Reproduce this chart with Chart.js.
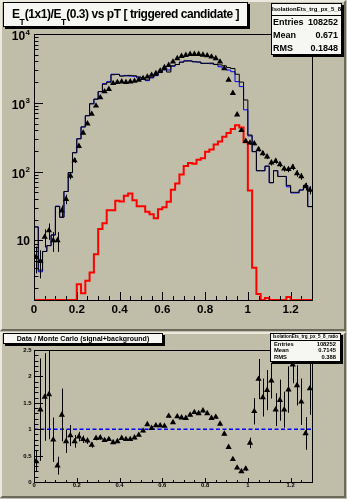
<!DOCTYPE html>
<html>
<head>
<meta charset="utf-8">
<title>ET(1x1)/ET(0.3) vs pT</title>
<script src="https://cdn.jsdelivr.net/npm/chart.js@4.4.1/dist/chart.umd.min.js"></script>
<style>
  html, body { margin: 0; padding: 0; background: #c0bda8; }
  #root { position: relative; width: 347px; height: 499px; overflow: hidden; background: #c0bda8;
    font-family: "Liberation Sans", Arial, Helvetica, sans-serif; font-weight: bold; color: #000; }
  #root canvas { position: absolute; left: 0; display: block; }
  .pad { position: absolute; left: 0; width: 346px; box-sizing: border-box; border: 2px solid;
    border-color: #ebe9de #6c6a5c #6c6a5c #ebe9de; pointer-events: none; }
  .pave { position: absolute; box-sizing: border-box; background: #f6f6f3; border: 1px solid #000;
    box-shadow: 2px 2px 0 #000; white-space: nowrap; }
  .pave div { position: absolute; white-space: nowrap; }
  .pave .head { left: 0; right: 0; overflow: hidden; text-align: center; }
  .sub { font-size: 8.5px; position: relative; top: 7px; letter-spacing: 0; }
  .rule { left: 0; right: 0; height: 0; border-top: 1px solid #000; }
</style>
</head>
<body>
<div id="root">
  <canvas id="mainPlot" width="347" height="331" style="top:0;width:347px;height:331px;"></canvas>
  <canvas id="ratioPlot" width="347" height="167" style="top:332px;width:347px;height:167px;"></canvas>

  <div class="pad" style="top:0;height:331px;"></div>
  <div class="pad" style="top:332px;height:166px;"></div>

  <div class="pave" style="left:3px;top:2px;width:245px;height:25px;">
    <div style="left:8px;top:3px;font-size:12px;line-height:16px;letter-spacing:-0.45px;">E<span class="sub">T</span>(1x1)/E<span class="sub">T</span>(0.3) vs pT [ triggered candidate ]</div>
  </div>

  <div class="pave" style="left:271px;top:3px;width:71px;height:52px;">
    <div class="head" style="top:1px;font-size:6px;line-height:8px;">IsolationEts_trg_px_5_8</div>
    <div class="rule" style="top:11px;"></div>
    <div style="left:1px;top:13px;font-size:9px;line-height:11px;">Entries</div>
    <div style="right:3px;top:13px;font-size:9px;line-height:11px;">108252</div>
    <div style="left:1px;top:26px;font-size:9px;line-height:11px;">Mean</div>
    <div style="right:3px;top:26px;font-size:9px;line-height:11px;">0.671</div>
    <div style="left:1px;top:38.5px;font-size:9px;line-height:11px;">RMS</div>
    <div style="right:3px;top:38.5px;font-size:9px;line-height:11px;">0.1848</div>
  </div>

  <div class="pave" style="left:3px;top:333px;width:160px;height:11px;">
    <div style="left:0;right:0;top:0;text-align:center;font-size:7px;line-height:9px;">Data / Monte Carlo (signal+background)</div>
  </div>

  <div class="pave" style="left:270px;top:333px;width:71px;height:29px;">
    <div class="head" style="top:0;font-size:4.6px;line-height:5px;">IsolationEts_trg_px_5_8_ratio</div>
    <div class="rule" style="top:6px;"></div>
    <div style="left:3px;top:7px;font-size:5.8px;line-height:7px;">Entries</div>
    <div style="right:4px;top:7px;font-size:5.8px;line-height:7px;">108252</div>
    <div style="left:3px;top:13px;font-size:5.8px;line-height:7px;">Mean</div>
    <div style="right:4px;top:13px;font-size:5.8px;line-height:7px;">0.7145</div>
    <div style="left:3px;top:20px;font-size:5.8px;line-height:7px;">RMS</div>
    <div style="right:4px;top:20px;font-size:5.8px;line-height:7px;">0.388</div>
  </div>
</div>

<script>
// Binning: 65 bins of width 0.02 covering ET(1x1)/ET(0.3) from 0 to 1.3
const X_MIN = 0, X_MAX = 1.3, BIN_WIDTH = 0.02;
const Y_LOG_MIN = 1.36, Y_LOG_MAX = 1e4;
const RATIO_MIN = 0, RATIO_MAX = 2.5, RATIO_REFERENCE = 1;

// Triggered-candidate data (entries per bin) and their statistical errors
const dataCounts = [5.7, 5.0, 11.2, 13.9, 10.0, 10.0, 27, 39.8, 86.4, 145,
  234, 365, 498, 687, 906, 1193, 1456, 1576, 1924, 1990,
  2030, 1990, 2030, 2074, 2148, 2270, 2390, 2535, 2680, 2925,
  3273, 3533, 3945, 4416, 4766, 4930, 5100, 5100, 5100, 4980,
  4860, 4660, 4416, 3945, 3160, 2148, 1380, 671, 398, 277,
  262, 256, 210, 184, 165, 135, 142, 127, 110, 108,
  116, 94, 85, 61, 54];
const dataErrors = [2.4, 2.2, 3.3, 3.7, 3.2, 3.2, 5.2, 6.3, 9.3, 12,
  15, 19, 22, 26, 30, 35, 38, 40, 44, 45,
  45, 45, 45, 46, 46, 48, 49, 50, 52, 54,
  57, 59, 63, 66, 69, 70, 71, 71, 71, 71,
  70, 68, 66, 63, 56, 46, 37, 26, 20, 17,
  16, 16, 14, 14, 13, 12, 12, 11, 10, 10,
  11, 10, 9.2, 7.8, 7.3];

// Monte Carlo signal+background (black), alternative normalisation (blue), background only (red)
const mcSignalBkg = [15.7, 3.7, 6.9, 8.4, 12.0, 31.0, 21.7, 51.4, 96.6, 188,
  300, 446, 649, 968, 1130, 1455, 1862, 1990, 2560, 2580,
  2450, 2460, 2500, 2470, 2380, 2300, 2150, 2350, 2500, 2750,
  3050, 2800, 3450, 3600, 3900, 4050, 4050, 3950, 3920, 3750,
  3750, 3780, 3620, 3560, 3450, 3250, 3150, 2600, 2000, 1100,
  340, 195, 103, 103, 120, 69, 103, 85, 85, 63,
  50, 50, 54, 63, 31];
const mcSignalBkgAlt = [15.7, 3.5, 6.9, 8.4, 12.0, 31.5, 21.7, 51.4, 96.6, 188,
  300, 446, 649, 968, 1130, 1455, 1900, 2030, 2600, 2600,
  2450, 2500, 2450, 2430, 2300, 2250, 2100, 2300, 2480, 2800,
  3000, 3000, 3400, 3600, 3900, 4080, 4080, 3950, 3900, 3740,
  3740, 3700, 3600, 3340, 3100, 2990, 2830, 2030, 1720, 790,
  330, 195, 103, 103, 120, 69, 103, 85, 85, 60,
  49, 49, 54, 63, 31];
const mcBackground = [0, 0, 0, 0, 0, 0, 0, 0, 0, 0,
  2.3, 1.7, 2.6, 3.4, 6.3, 14.6, 17.8, 27.4, 27.4, 37.6,
  36.9, 44.5, 48.2, 38.2, 31.3, 31.3, 26.1, 24.0, 21.0, 28.3,
  30.3, 36.4, 54.3, 67.1, 90.6, 120.5, 133, 130, 149, 156,
  194, 210, 248, 274, 320, 365, 417, 470, 436, 267,
  53.2, 4.0, 1.66, 0, 1.45, 0, 0, 0, 0, 1.5,
  0, 0, 0, 0, 0];

// Data / Monte Carlo (signal+background)
const ratioValues = [0.39, 1.37, 1.61, 1.66, 0.80, 0.31, 1.27, 0.77, 0.88, 0.77,
  0.86, 0.81, 0.78, 0.70, 0.83, 0.84, 0.79, 0.81, 0.75, 0.77,
  0.83, 0.81, 0.81, 0.84, 0.89, 0.97, 1.09, 1.02, 1.07, 1.07,
  1.06, 1.25, 1.13, 1.24, 1.22, 1.21, 1.27, 1.32, 1.30, 1.35,
  1.30, 1.21, 1.23, 1.10, 0.91, 0.66, 0.43, 0.27, 0.20, 0.25,
  0.74, 1.34, 1.95, 1.60, 1.74, 1.92, 1.37, 1.55, 1.37, 1.75,
  2.22, 1.83, 1.52, 0.92, 1.77];
const ratioErrors = [0.2, 0.97, 0.83, 0.85, 0.42, 0.17, 0.5, 0.22, 0.2, 0.12,
  0.09, 0.07, 0.06, 0.05, 0.04, 0.04, 0.03, 0.03, 0.03, 0.03,
  0.03, 0.03, 0.03, 0.03, 0.03, 0.03, 0.03, 0.03, 0.03, 0.03,
  0.03, 0.03, 0.03, 0.03, 0.03, 0.03, 0.03, 0.03, 0.03, 0.03,
  0.03, 0.03, 0.03, 0.03, 0.03, 0.03, 0.03, 0.03, 0.03, 0.04,
  0.1, 0.25, 0.38, 0.36, 0.38, 0.34, 0.31, 0.39, 0.34, 0.44,
  0.35, 0.38, 0.44, 0.31, 0.5];

// Axis ticks and labels
const xTickValues = [0, 0.2, 0.4, 0.6, 0.8, 1, 1.2];
const xTickLabels = ['0', '0.2', '0.4', '0.6', '0.8', '1', '1.2'];
const xMinorStep = 0.05;
const yDecadeValues = [10, 100, 1000, 10000];
const yDecadeLabels = [['10', ''], ['10', '2'], ['10', '3'], ['10', '4']];
const ratioTickValues = [0, 0.5, 1, 1.5, 2, 2.5];
const ratioTickLabels = ['0', '0.5', '1', '1.5', '2', '2.5'];
const ratioMinorStep = 0.1;

const FONT = '"Liberation Sans", Arial, Helvetica, sans-serif';

function binLow(i) { return Math.round((X_MIN + i * BIN_WIDTH) * 1e6) / 1e6; }
function binCenter(i) { return binLow(i) + BIN_WIDTH / 2; }

// Histogram outline: each value is held across its bin (step before next edge)
function stepPoints(values, floor) {
  const pts = values.map((v, i) => ({ x: binLow(i), y: v > 0 ? v : floor }));
  pts.push({ x: binLow(values.length), y: pts[pts.length - 1].y });
  return pts;
}
function markerPoints(values) {
  return values.map((v, i) => ({ x: binCenter(i), y: v }));
}

function histDataset(values, color, width, floor) {
  return {
    type: 'line', data: stepPoints(values, floor), stepped: 'before',
    borderColor: color, borderWidth: width, pointRadius: 0, fill: false, tension: 0
  };
}
function markerDataset(values, errors) {
  return {
    type: 'line', data: markerPoints(values), showLine: false, errorBars: errors,
    pointStyle: 'triangle', pointRadius: 3.6, pointBackgroundColor: '#000',
    pointBorderColor: '#000', pointBorderWidth: 0
  };
}

// Vertical error bars drawn through the chart scales
const errorBarPlugin = {
  id: 'errorBars',
  afterDatasetsDraw(chart) {
    const { ctx, chartArea: a, scales: { x, y } } = chart;
    ctx.save();
    ctx.beginPath();
    ctx.rect(a.left, a.top, a.right - a.left, a.bottom - a.top);
    ctx.clip();
    ctx.strokeStyle = '#000';
    ctx.lineWidth = 1;
    chart.data.datasets.forEach(ds => {
      if (!ds.errorBars) return;
      ds.data.forEach((p, i) => {
        const e = ds.errorBars[i];
        if (!e) return;
        const lo = Math.max(p.y - e, y.min);
        const px = Math.round(x.getPixelForValue(p.x)) + 0.5;
        ctx.beginPath();
        ctx.moveTo(px, y.getPixelForValue(p.y + e));
        ctx.lineTo(px, y.getPixelForValue(lo));
        ctx.stroke();
      });
    });
    ctx.restore();
  }
};

function hLine(ctx, x0, x1, yy) { ctx.beginPath(); ctx.moveTo(x0, yy); ctx.lineTo(x1, yy); ctx.stroke(); }
function vLine(ctx, xx, y0, y1) { ctx.beginPath(); ctx.moveTo(xx, y0); ctx.lineTo(xx, y1); ctx.stroke(); }

// Frame plus inward ticks along the bottom x axis
function drawFrameAndX(chart, majorLen, labelSize, labelDrop) {
  const { ctx, chartArea: a, scales: { x } } = chart;
  const L = Math.round(a.left), R = Math.round(a.right), T = Math.round(a.top), B = Math.round(a.bottom);
  ctx.strokeStyle = '#000';
  ctx.lineWidth = 1;
  ctx.strokeRect(L + 0.5, T + 0.5, R - L, B - T);
  const nMinor = Math.round((X_MAX - X_MIN) / xMinorStep);
  for (let k = 0; k <= nMinor; k++) {
    const v = X_MIN + k * xMinorStep;
    const isMajor = xTickValues.some(t => Math.abs(t - v) < 1e-6);
    const px = Math.round(x.getPixelForValue(v)) + 0.5;
    vLine(ctx, px, B, B - (isMajor ? majorLen : majorLen / 2));
  }
  ctx.fillStyle = '#000';
  ctx.font = 'bold ' + labelSize + 'px ' + FONT;
  ctx.textAlign = 'center';
  ctx.textBaseline = 'alphabetic';
  xTickValues.forEach((v, i) => ctx.fillText(xTickLabels[i], x.getPixelForValue(v), B + labelDrop));
}

const mainAxesPlugin = {
  id: 'mainAxes',
  afterDraw(chart) {
    const { ctx, chartArea: a, scales: { y } } = chart;
    ctx.save();
    drawFrameAndX(chart, 8, 11.6, 13.3);
    const L = Math.round(a.left);
    // logarithmic y ticks: decades long, 2..9 short
    for (let d = 0; d <= 4; d++) {
      for (let m = 1; m <= 9; m++) {
        const v = m * Math.pow(10, d);
        if (v < Y_LOG_MIN || v > Y_LOG_MAX) continue;
        const py = Math.round(y.getPixelForValue(v)) + 0.5;
        hLine(ctx, L, L + (m === 1 ? 9 : 4.5), py);
      }
    }
    ctx.textAlign = 'right';
    yDecadeValues.forEach((v, i) => {
      const py = y.getPixelForValue(v);
      const [base, exp] = yDecadeLabels[i];
      if (!exp) {
        ctx.font = 'bold 12px ' + FONT;
        ctx.fillText(base, 30, py + 4.3);
      } else {
        ctx.font = 'bold 8px ' + FONT;
        const w = ctx.measureText(exp).width;
        ctx.fillText(exp, 30, py + 0.5);
        ctx.font = 'bold 12px ' + FONT;
        ctx.fillText(base, 30 - w - 0.5, py + 6.3);
      }
    });
    ctx.restore();
  }
};

const ratioAxesPlugin = {
  id: 'ratioAxes',
  afterDraw(chart) {
    const { ctx, chartArea: a, scales: { y } } = chart;
    ctx.save();
    drawFrameAndX(chart, 4, 5.8, 4.7);
    const L = Math.round(a.left);
    const nMinor = Math.round((RATIO_MAX - RATIO_MIN) / ratioMinorStep);
    for (let k = 0; k <= nMinor; k++) {
      const v = RATIO_MIN + k * ratioMinorStep;
      const isMajor = ratioTickValues.some(t => Math.abs(t - v) < 1e-6);
      const py = Math.round(y.getPixelForValue(v)) + 0.5;
      hLine(ctx, L, L + (isMajor ? 9 : 4.5), py);
    }
    ctx.font = 'bold 6px ' + FONT;
    ctx.textAlign = 'right';
    ratioTickValues.forEach((v, i) => ctx.fillText(ratioTickLabels[i], 31.7, y.getPixelForValue(v) + 2));
    ctx.restore();
  }
};

const commonOptions = (padding, yScale) => ({
  responsive: false,
  animation: false,
  devicePixelRatio: 1,
  layout: { padding },
  plugins: { legend: { display: false }, tooltip: { enabled: false } },
  scales: {
    x: { type: 'linear', min: X_MIN, max: X_MAX, display: false },
    y: Object.assign({ display: false }, yScale)
  }
});

// Upper pad: data markers over the Monte Carlo histograms, logarithmic counts
new Chart(document.getElementById('mainPlot'), {
  type: 'line',
  data: {
    datasets: [
      markerDataset(dataCounts, dataErrors),
      histDataset(mcSignalBkg, '#000000', 1, Y_LOG_MIN),
      histDataset(mcSignalBkgAlt, '#0000ff', 1, Y_LOG_MIN),
      histDataset(mcBackground, '#ff0000', 2, Y_LOG_MIN)
    ]
  },
  options: commonOptions({ left: 34, right: 35, top: 34, bottom: 31 },
    { type: 'logarithmic', min: Y_LOG_MIN, max: Y_LOG_MAX }),
  plugins: [errorBarPlugin, mainAxesPlugin]
});

// Lower pad: data / Monte Carlo ratio with the unity reference line
new Chart(document.getElementById('ratioPlot'), {
  type: 'line',
  data: {
    datasets: [
      markerDataset(ratioValues, ratioErrors),
      {
        type: 'line', data: [{ x: X_MIN, y: RATIO_REFERENCE }, { x: X_MAX, y: RATIO_REFERENCE }],
        borderColor: '#0000ff', borderWidth: 1.5, borderDash: [4, 2.5], pointRadius: 0, fill: false
      }
    ]
  },
  options: commonOptions({ left: 34, right: 35, top: 18, bottom: 17 },
    { type: 'linear', min: RATIO_MIN, max: RATIO_MAX }),
  plugins: [errorBarPlugin, ratioAxesPlugin]
});
</script>
</body>
</html>
